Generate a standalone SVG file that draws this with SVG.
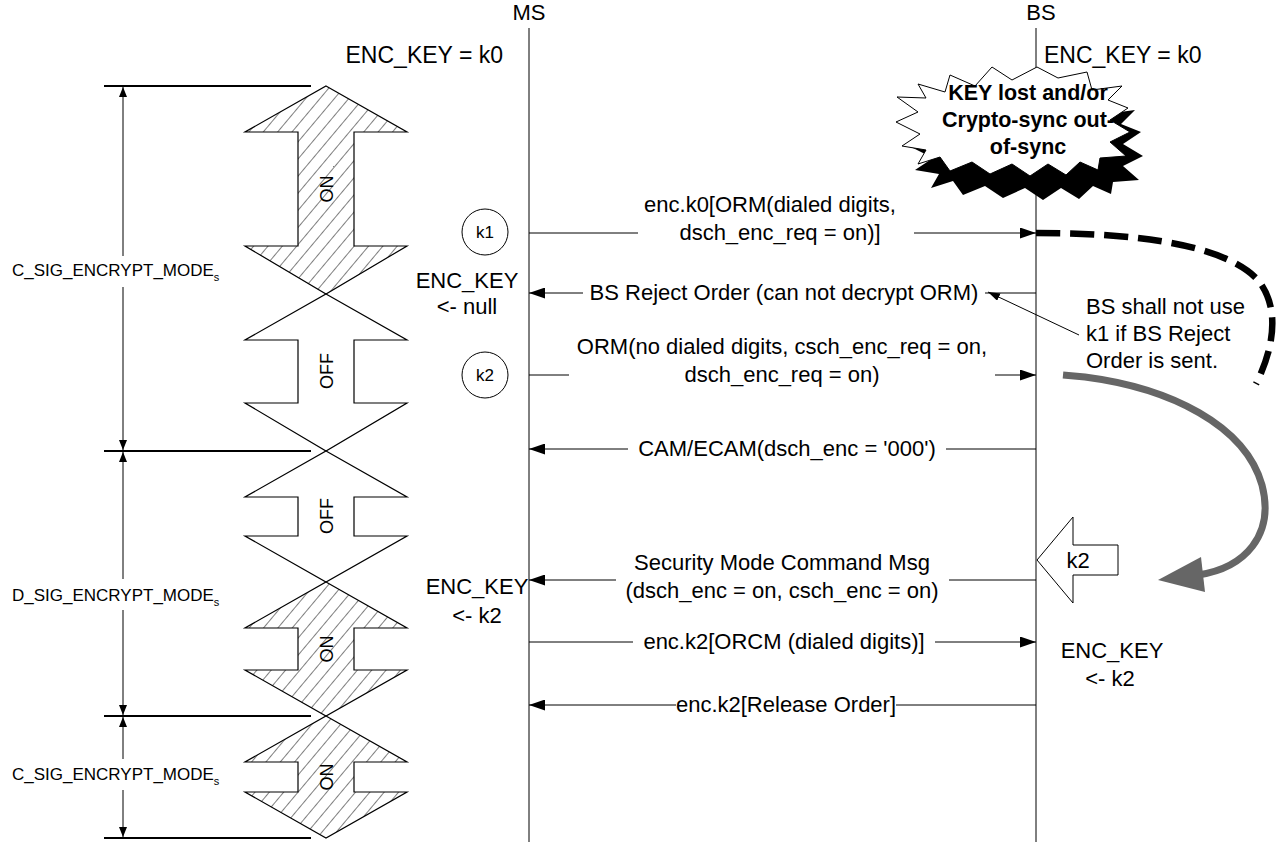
<svg xmlns="http://www.w3.org/2000/svg" width="1276" height="842" viewBox="0 0 1276 842">
<style>
.t{font-family:"Liberation Sans",Arial,sans-serif;font-size:22px;fill:#000}
.m{text-anchor:middle}
.lbl{font-size:17px}
.md{font-size:18px}
.big{font-size:23px}
.b{font-weight:bold;font-size:21.5px}
.sh{stroke:#000;stroke-width:1.2}
.msg{fill:none;stroke:#000;stroke-width:1;marker-end:url(#arr)}
.dim{fill:none;stroke:#000;stroke-width:1;marker-start:url(#darr);marker-end:url(#darr)}
.hl{stroke:#000;stroke-width:2}
.life{stroke:#000;stroke-width:1}
</style>
<defs>
<pattern id="hatch" patternUnits="userSpaceOnUse" width="11" height="11" patternTransform="rotate(40)">
<rect width="11" height="11" fill="#fff"/>
<line x1="0" y1="0" x2="0" y2="11" stroke="#000" stroke-width="1"/>
</pattern>
<marker id="arr" markerUnits="userSpaceOnUse" markerWidth="16" markerHeight="11" refX="16" refY="5.5" orient="auto">
<path d="M0,0 L16,5.5 L0,11 z" fill="#000"/>
</marker>
<marker id="darr" markerUnits="userSpaceOnUse" markerWidth="10" markerHeight="8" refX="10" refY="4" orient="auto-start-reverse">
<path d="M0,0 L10,4 L0,8 z" fill="#000"/>
</marker>
<marker id="sarr" markerUnits="userSpaceOnUse" markerWidth="12" markerHeight="8" refX="12" refY="4" orient="auto">
<path d="M0,0 L12,4 L0,8 z" fill="#000"/>
</marker>
<polygon id="cloudshape" points="950,75 975,86 992,67 1012,80 1037,67 1058,78 1087,72 1092,90 1122,86 1108,100 1128,108 1110,120 1130,132 1110,142 1126,156 1100,158 1098,170 1080,162 1066,175 1048,164 1030,176 1012,164 990,174 972,162 950,171 940,157 918,164 926,150 902,146 920,134 896,122 918,112 897,97 926,98 918,84 945,92"/>
</defs>
<rect width="1276" height="842" fill="#fff"/>

<g id="lifelines">
<line class="life" x1="529" y1="28" x2="529" y2="842"/>
<line class="life" x1="1036" y1="28" x2="1036" y2="842"/>
<text class="t m" x="529" y="20">MS</text>
<text class="t m" x="1041" y="20">BS</text>
<text class="t big" x="503" y="63" text-anchor="end">ENC_KEY = k0</text>
<text class="t big" x="1044" y="63">ENC_KEY = k0</text>
</g>

<g id="mode-dimensions">
<line class="hl" x1="104" y1="86" x2="311" y2="86"/>
<line class="hl" x1="104" y1="451" x2="311" y2="451"/>
<line class="hl" x1="104" y1="716" x2="311" y2="716"/>
<line class="hl" x1="104" y1="838" x2="311" y2="838"/>
<path class="dim" d="M123,87 V256 M123,287 V450"/>
<path class="dim" d="M123,452 V579 M123,610 V715"/>
<path class="dim" d="M123,717 V759 M123,790 V837"/>
<text class="t lbl" x="12" y="276">C_SIG_ENCRYPT_MODE<tspan font-size="11" dy="5">s</tspan></text>
<text class="t lbl" x="12" y="601">D_SIG_ENCRYPT_MODE<tspan font-size="11" dy="5">s</tspan></text>
<text class="t lbl" x="12" y="780">C_SIG_ENCRYPT_MODE<tspan font-size="11" dy="5">s</tspan></text>
</g>

<g id="mode-on-1">
<polygon class="sh" fill="url(#hatch)" points="326,86 407,132 354,132 354,246 407,246 326,294 245,246 298,246 298,132 245,132"/>
<text class="t md m" transform="translate(326,189) rotate(-90)" y="6.5">ON</text>
</g>
<g id="mode-off-1">
<polygon class="sh" fill="#fff" points="326,294 407,340 354,340 354,403 407,403 326,451 245,403 298,403 298,340 245,340"/>
<text class="t md m" transform="translate(326,371) rotate(-90)" y="6.5">OFF</text>
</g>
<g id="mode-off-2">
<polygon class="sh" fill="#fff" points="326,451 407,497 354,497 354,536 407,536 326,582 245,536 298,536 298,497 245,497"/>
<text class="t md m" transform="translate(326,516) rotate(-90)" y="6.5">OFF</text>
</g>
<g id="mode-on-2">
<polygon class="sh" fill="url(#hatch)" points="326,582 407,628 354,628 354,670 407,670 326,716 245,670 298,670 298,628 245,628"/>
<text class="t md m" transform="translate(326,649) rotate(-90)" y="6.5">ON</text>
</g>
<g id="mode-on-3">
<polygon class="sh" fill="url(#hatch)" points="326,716 407,762 354,762 354,792 407,792 326,838 245,792 298,792 298,762 245,762"/>
<text class="t md m" transform="translate(326,777) rotate(-90)" y="6.5">ON</text>
</g>

<g id="cloud">
<use href="#cloudshape" transform="translate(13,24)" fill="#000"/>
<use href="#cloudshape" fill="#fff" stroke="#000" stroke-width="1"/>
<text class="t b m" x="1028" y="99.5">KEY lost and/or</text>
<text class="t b m" x="1028" y="126.5">Crypto-sync out-</text>
<text class="t b m" x="1028" y="153.5">of-sync</text>
</g>

<g id="key-k1">
<circle cx="485" cy="232" r="23" fill="#fff" stroke="#000" stroke-width="1"/>
<text class="t lbl m" x="485" y="238">k1</text>
</g>
<g id="key-k2">
<circle cx="485" cy="375" r="23" fill="#fff" stroke="#000" stroke-width="1"/>
<text class="t lbl m" x="485" y="381">k2</text>
</g>
<g id="ms-key-null">
<text class="t m" x="467" y="288">ENC_KEY</text>
<text class="t m" x="467" y="314">&lt;- null</text>
</g>
<g id="ms-key-k2">
<text class="t m" x="477" y="594">ENC_KEY</text>
<text class="t m" x="477" y="623">&lt;- k2</text>
</g>
<g id="bs-key-k2">
<text class="t m" x="1112" y="658">ENC_KEY</text>
<text class="t m" x="1110" y="686">&lt;- k2</text>
</g>
<g id="note">
<text class="t" x="1086" y="314">BS shall not use</text>
<text class="t" x="1086" y="341">k1 if BS Reject</text>
<text class="t" x="1086" y="368">Order is sent.</text>
</g>
<g id="k2-block">
<polygon fill="#fff" stroke="#000" stroke-width="1" points="1037,560 1073,517 1073,545 1118,545 1118,575 1073,575 1073,603"/>
<text class="t m" x="1078" y="568">k2</text>
</g>

<g id="connectors">
<path class="msg" d="M529,233 H638 M914,233 H1036"/>
<text class="t m" x="770" y="212">enc.k0[ORM(dialed digits,</text>
<text class="t m" x="780" y="240">dsch_enc_req = on)]</text>

<path class="msg" d="M1036,293 H985 M583,293 H529"/>
<text class="t m" x="784" y="300">BS Reject Order (can not decrypt ORM)</text>

<path class="msg" d="M529,375 H569 M995,375 H1036"/>
<text class="t m" x="782" y="354">ORM(no dialed digits, csch_enc_req = on,</text>
<text class="t m" x="782" y="382">dsch_enc_req = on)</text>

<path class="msg" d="M1036,449 H946 M628,449 H529"/>
<text class="t m" x="787" y="456">CAM/ECAM(dsch_enc = '000')</text>

<path class="msg" d="M1036,580 H949 M616,580 H529"/>
<text class="t m" x="782" y="570">Security Mode Command Msg</text>
<text class="t m" x="782" y="598">(dsch_enc = on, csch_enc = on)</text>

<path class="msg" d="M529,642 H633 M935,642 H1036"/>
<text class="t m" x="784" y="649">enc.k2[ORCM (dialed digits)]</text>

<path class="msg" d="M1036,705 H896 M676,705 H529"/>
<text class="t m" x="786" y="712">enc.k2[Release Order]</text>

<line x1="1079" y1="335" x2="988" y2="292" stroke="#000" stroke-width="1" marker-end="url(#sarr)"/>

<path d="M1036,233 C1140,233 1225,245 1258,280 C1282,310 1272,352 1256,384" fill="none" stroke="#000" stroke-width="6.5" stroke-dasharray="24 10"/>

<path d="M1063,375 L1085,377 C1170,388 1245,425 1262,485 C1275,535 1245,568 1198,575" fill="none" stroke="#666" stroke-width="7"/>
<polygon points="1158,580 1201,557 1205,592" fill="#666"/>
</g>
</svg>
